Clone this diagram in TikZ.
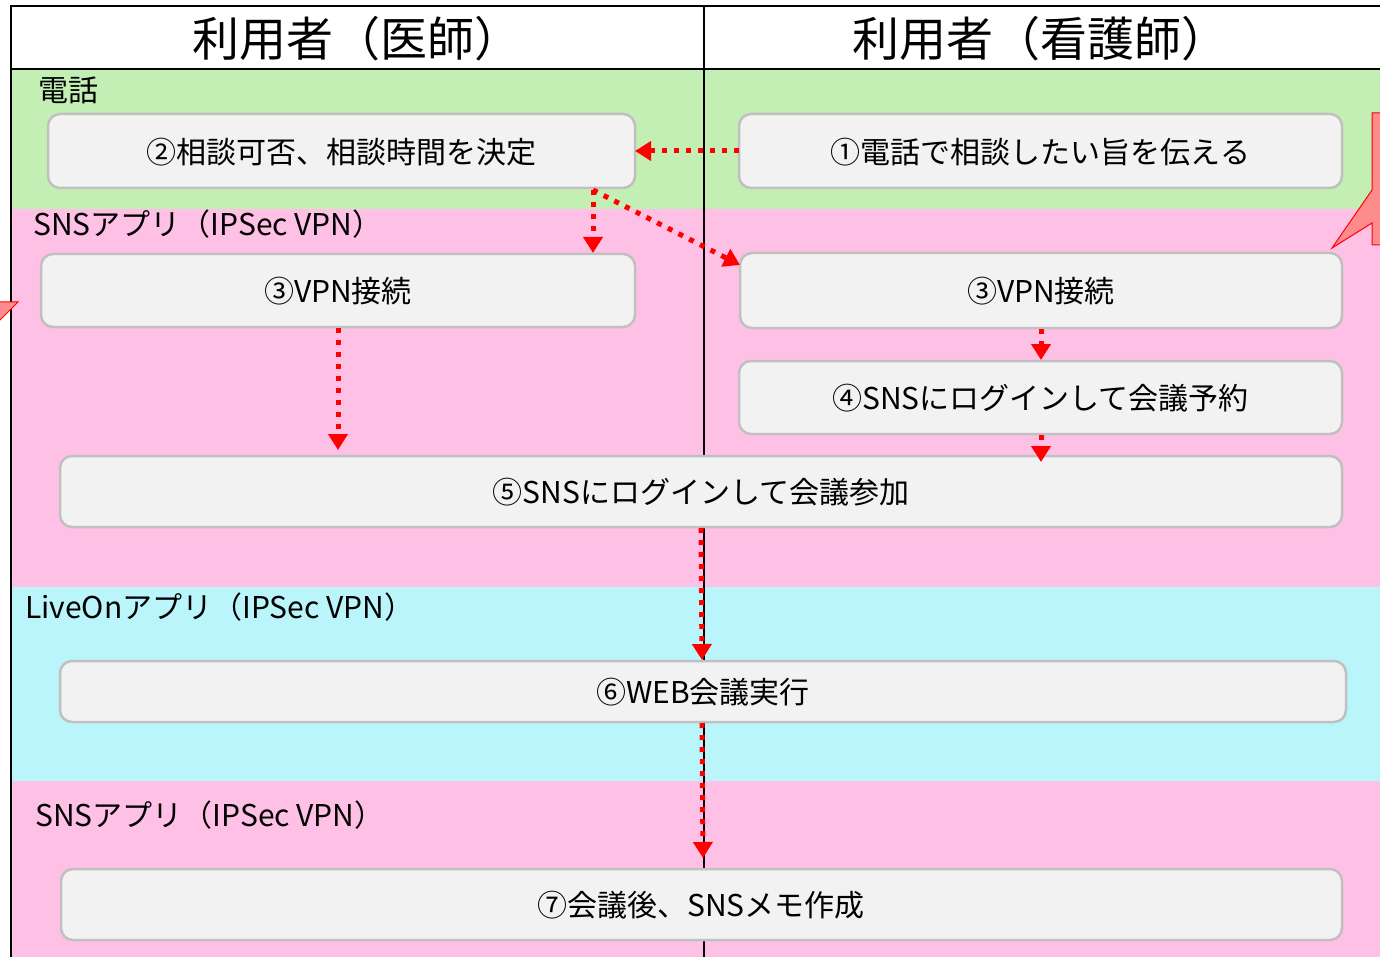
\documentclass[tikz,border=0pt]{standalone}
\usepackage{fontspec}
\setmainfont{Noto Sans CJK JP}
\usetikzlibrary{arrows.meta}
\definecolor{bandgreen}{RGB}{195,239,181}
\definecolor{bandpink}{RGB}{255,192,230}
\definecolor{bandcyan}{RGB}{186,245,251}
\definecolor{boxfill}{RGB}{242,242,242}
\definecolor{boxline}{RGB}{192,192,192}
\definecolor{calloutfill}{RGB}{255,140,140}
\tikzset{
  stepbox/.style={draw=boxline, line width=2.5pt, fill=boxfill, rounded corners=12pt},
  boxtext/.style={font=\fontsize{30}{34}\selectfont, inner sep=0pt},
  headtext/.style={font=\fontsize{47}{52}\selectfont, inner sep=0pt},
  bandlabel/.style={font=\fontsize{30}{34}\selectfont, inner sep=0pt, anchor=west},
  flow/.style={draw=red, line width=5pt, dash pattern=on 5pt off 7pt, -{Triangle[width=19pt,length=16pt]}, shorten >=0pt},
  frameline/.style={draw=black, line width=2.8pt},
  callout/.style={draw=red, line width=1pt, fill=calloutfill},
}
\begin{document}
\begin{tikzpicture}[x=1pt,y=-1pt]
\useasboundingbox (0,0) rectangle (1380,957);
\fill[white] (0,0) rectangle (1380,957);
% bands
\fill[bandgreen] (11,69) rectangle (1380,209);
\fill[bandpink] (11,209) rectangle (1380,587);
\fill[bandcyan] (11,587) rectangle (1380,781);
\fill[bandpink] (11,781) rectangle (1380,957);
% frame lines
\draw[frameline] (11,6) -- (1380,6);
\draw[frameline] (11,69) -- (1380,69);
\draw[frameline] (704,6) -- (704,957);
\draw[frameline] (11,5) -- (11,957);
% header
\node[headtext] (h1) at (357,39) {利用者（医師）};
\node[headtext] (h2) at (1040,39) {利用者（看護師）};
% band labels
\node[bandlabel] (l1) at (38,90) {電話};
\node[bandlabel] (l2) at (33,224) {SNSアプリ（IPSec VPN）};
\node[bandlabel] (l3) at (25,607) {LiveOnアプリ（IPSec VPN）};
\node[bandlabel] (l4) at (35,815) {SNSアプリ（IPSec VPN）};
% callouts (partial, at edges)
\draw[callout] (1372,113) -- (1392,113) -- (1392,245) -- (1372,245) -- (1372,223) -- (1332,248) -- (1372,190) -- cycle;
\draw[callout] (-5,302) -- (18,302) -- (0,320) -- (-5,320) -- cycle;
% boxes
\draw[stepbox] (48,114) rectangle (635,188);
\node[boxtext] (b2) at (341.5,152) {②相談可否、相談時間を決定};
\draw[stepbox] (739,114) rectangle (1342,188);
\node[boxtext] (b1) at (1040.5,152) {①電話で相談したい旨を伝える};
\draw[stepbox] (41,254) rectangle (635,327);
\node[boxtext] (b3l) at (338,291.5) {③VPN接続};
\draw[stepbox] (740,253) rectangle (1342,328);
\node[boxtext] (b3r) at (1041,291.5) {③VPN接続};
\draw[stepbox] (739,361) rectangle (1342,434);
\node[boxtext] (b4) at (1040.5,398.5) {④SNSにログインして会議予約};
\draw[stepbox] (60,456) rectangle (1342,527);
\node[boxtext] (b5) at (701,492) {⑤SNSにログインして会議参加};
\draw[stepbox] (60,661) rectangle (1346,722);
\node[boxtext] (b6) at (703,692) {⑥WEB会議実行};
\draw[stepbox] (61,869) rectangle (1342,940);
\node[boxtext] (b7) at (701,905.5) {⑦会議後、SNSメモ作成};
% connector coordinates
\coordinate (a1s) at (739,151);
\coordinate (a1e) at (635,151);
\coordinate (a2s) at (593,190);
\coordinate (a2e) at (593,253);
\coordinate (a3e) at (740,265);
\coordinate (a4s) at (338,328);
\coordinate (a4e) at (338,450);
\coordinate (a5s) at (1041,329);
\coordinate (a5e) at (1041,360);
\coordinate (a6s) at (1041,435);
\coordinate (a6e) at (1041,462);
\coordinate (a7s) at (701,528);
\coordinate (a7e) at (702,660);
\coordinate (a8s) at (702,723);
\coordinate (a8e) at (703,858);
% connectors
\draw[flow] (a1s) -- (a1e);
\draw[flow] (a2s) -- (a2e);
\draw[flow] (a2s) -- (a3e);
\draw[flow] (a4s) -- (a4e);
\draw[flow] (a5s) -- (a5e);
\draw[flow] (a6s) -- (a6e);
\draw[flow] (a7s) -- (a7e);
\draw[flow] (a8s) -- (a8e);
\end{tikzpicture}
\end{document}
